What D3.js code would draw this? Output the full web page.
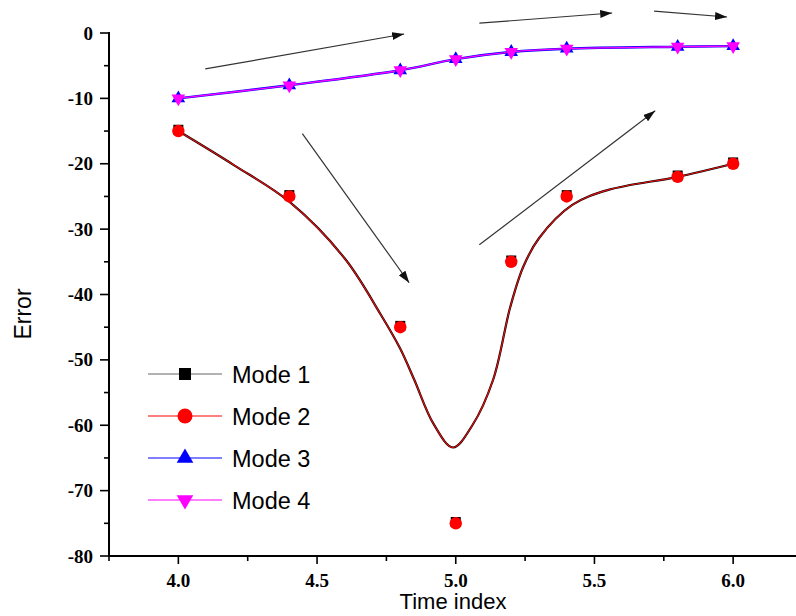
<!DOCTYPE html>
<html><head><meta charset="utf-8">
<script src="https://cdn.jsdelivr.net/npm/d3@7"></script>
<style>body{margin:0;background:#fff}svg{display:block}</style>
</head><body>
<svg id="c" width="796" height="616"></svg>
<script>
// ---- data ----
const timeIdx = [4.0, 4.4, 4.8, 5.0, 5.2, 5.4, 5.8, 6.0];
const mode1 = [-14.8, -24.8, -44.8, -74.8, -34.8, -24.8, -21.8, -19.8];
const mode2 = [-15, -25, -45, -75, -35, -25, -22, -20];
const mode3 = [-10, -8, -5.7, -4.0, -2.9, -2.4, -2.1, -2.0];
const mode4 = [-10, -8, -5.7, -4.0, -2.9, -2.4, -2.1, -2.0];
// fitted curve (modes 1 & 2 overlap)
const fitX = [4.0, 4.2, 4.4, 4.6, 4.73, 4.8, 4.85, 4.92, 4.99, 5.06, 5.135, 5.196, 5.243, 5.3, 5.42, 5.55, 5.8, 6.0];
const fitY = [-15, -20.2, -25.8, -34.5, -43.1, -48.3, -53, -59.8, -63.4, -60, -53, -42, -35.8, -31.4, -26.3, -24, -22, -20];
const seriesNames = ["Mode 1", "Mode 2", "Mode 3", "Mode 4"];
const xTicks = [4.0, 4.5, 5.0, 5.5, 6.0];
const xMinor = [3.75, 4.25, 4.75, 5.25, 5.75];
const yTicks = [0, -10, -20, -30, -40, -50, -60, -70, -80];
const yMinor = [-5, -15, -25, -35, -45, -55, -65, -75];
// annotation arrows [x0, y0, x1, y1] in data units
const arrows = [
  [4.097, -5.5, 4.814, -0.15],
  [5.085, 1.5, 5.564, 3.06],
  [5.715, 3.36, 5.978, 2.45],
  [4.447, -15.4, 4.832, -38.2],
  [5.085, -32.4, 5.719, -11.9]
];

const svg = d3.select("#c");
const x = d3.scaleLinear().domain([3.75, 6.25]).range([109, 802.5]);
const y = d3.scaleLinear().domain([-80, 0]).range([556, 33]);

const colors = ["#000000", "#ff0000", "#0000ff", "#ff00ff"];

// fitted lines
const fitPts = fitX.map((v, i) => [v, fitY[i]]);
const lineFit = d3.line().x(d => x(d[0])).y(d => y(d[1])).curve(d3.curveCatmullRom.alpha(0.5));
svg.append("path").attr("d", lineFit(fitPts)).attr("fill", "none").attr("stroke", "#000").attr("stroke-width", 2.2);
svg.append("path").attr("d", lineFit(fitPts)).attr("fill", "none").attr("stroke", "#e01010").attr("stroke-width", 1.2);

const line = d3.line().x((d, i) => x(timeIdx[i])).y(d => y(d)).curve(d3.curveCatmullRom.alpha(0.5));
svg.append("path").attr("d", line(mode3)).attr("fill", "none").attr("stroke", "#0000ff").attr("stroke-width", 2.4);
svg.append("path").attr("d", line(mode4)).attr("fill", "none").attr("stroke", "#ff00ff").attr("stroke-width", 1.3);

// arrows
const defs = svg.append("defs");
defs.append("marker").attr("id", "ah").attr("viewBox", "0 0 12 8").attr("refX", 12).attr("refY", 4)
  .attr("markerWidth", 12).attr("markerHeight", 8).attr("markerUnits", "userSpaceOnUse").attr("orient", "auto")
  .append("path").attr("d", "M0,0L12,4L0,8Z").attr("fill", "#111");
svg.selectAll(".arr").data(arrows).join("line")
  .attr("x1", d => x(d[0])).attr("y1", d => y(d[1])).attr("x2", d => x(d[2])).attr("y2", d => y(d[3]))
  .attr("stroke", "#333").attr("stroke-width", 1.2).attr("marker-end", "url(#ah)");

// markers
const sq = 10;
svg.selectAll(".m1").data(mode1).join("rect")
  .attr("x", (d, i) => x(timeIdx[i]) - sq / 2).attr("y", d => y(d) - sq / 2)
  .attr("width", sq).attr("height", sq).attr("fill", "#000");
svg.selectAll(".m2").data(mode2).join("circle")
  .attr("cx", (d, i) => x(timeIdx[i])).attr("cy", d => y(d)).attr("r", 6.2).attr("fill", "#ff0000");
const tri = d3.symbol().type(d3.symbolTriangle).size(80);
svg.selectAll(".m3").data(mode3).join("path").attr("d", tri)
  .attr("transform", (d, i) => `translate(${x(timeIdx[i])},${y(d)})`).attr("fill", "#0000ff");
svg.selectAll(".m4").data(mode4).join("path").attr("d", tri)
  .attr("transform", (d, i) => `translate(${x(timeIdx[i])},${y(d)}) rotate(180)`).attr("fill", "#ff00ff");

// axes
const ax = svg.append("g").attr("stroke", "#000");
ax.append("line").attr("x1", 109).attr("x2", 796).attr("y1", y(-80)).attr("y2", y(-80)).attr("stroke-width", 2);
ax.append("line").attr("x1", 109).attr("x2", 109).attr("y1", y(0) - 1).attr("y2", y(-80) + 1).attr("stroke-width", 2);
ax.selectAll(".xt").data(xTicks).join("line").attr("x1", d => x(d)).attr("x2", d => x(d)).attr("y1", y(-80)).attr("y2", y(-80) + 8).attr("stroke-width", 1.6);
ax.selectAll(".xm").data(xMinor).join("line").attr("x1", d => x(d)).attr("x2", d => x(d)).attr("y1", y(-80)).attr("y2", y(-80) + 5).attr("stroke-width", 1.6);
ax.selectAll(".yt").data(yTicks).join("line").attr("y1", d => y(d)).attr("y2", d => y(d)).attr("x1", 109).attr("x2", 100).attr("stroke-width", 1.6);
ax.selectAll(".ym").data(yMinor).join("line").attr("y1", d => y(d)).attr("y2", d => y(d)).attr("x1", 109).attr("x2", 104).attr("stroke-width", 1.6);

const serif = "'Liberation Serif','Times New Roman',serif";
svg.selectAll(".xl").data(xTicks).join("text").attr("x", d => x(d)).attr("y", 587)
  .attr("text-anchor", "middle").attr("font-family", serif).attr("font-weight", "bold").attr("font-size", 19)
  .text(d => d.toFixed(1));
svg.selectAll(".yl").data(yTicks).join("text").attr("x", 93).attr("y", d => y(d) + 6.5)
  .attr("text-anchor", "end").attr("font-family", serif).attr("font-weight", "bold").attr("font-size", 19)
  .text(d => d);

const sans = "'Liberation Sans',Arial,sans-serif";
svg.append("text").attr("x", 453).attr("y", 609).attr("text-anchor", "middle")
  .attr("font-family", sans).attr("font-size", 22).text("Time index");
svg.append("text").attr("transform", "translate(31,314) rotate(-90)").attr("text-anchor", "middle")
  .attr("font-family", sans).attr("font-size", 23).text("Error");

// legend
const legY = [374, 416, 458, 500];
const lg = svg.append("g");
seriesNames.forEach((n, i) => {
  const yy = legY[i];
  lg.append("line").attr("x1", 148).attr("x2", 222).attr("y1", yy).attr("y2", yy).attr("stroke", colors[i]).attr("stroke-width", 1.2).attr("stroke-opacity", i === 0 ? 0.6 : 1);
  if (i === 0) lg.append("rect").attr("x", 179).attr("y", yy - 6).attr("width", 12).attr("height", 12).attr("fill", "#000");
  if (i === 1) lg.append("circle").attr("cx", 185).attr("cy", yy).attr("r", 7.5).attr("fill", "#ff0000");
  if (i === 2) lg.append("path").attr("d", d3.symbol().type(d3.symbolTriangle).size(120)).attr("transform", `translate(185,${yy})`).attr("fill", "#0000ff");
  if (i === 3) lg.append("path").attr("d", d3.symbol().type(d3.symbolTriangle).size(120)).attr("transform", `translate(185,${yy}) rotate(180)`).attr("fill", "#ff00ff");
  lg.append("text").attr("x", 232).attr("y", yy + 8.5).attr("font-family", sans).attr("font-size", 23.5).text(n);
});
</script>
</body></html>
